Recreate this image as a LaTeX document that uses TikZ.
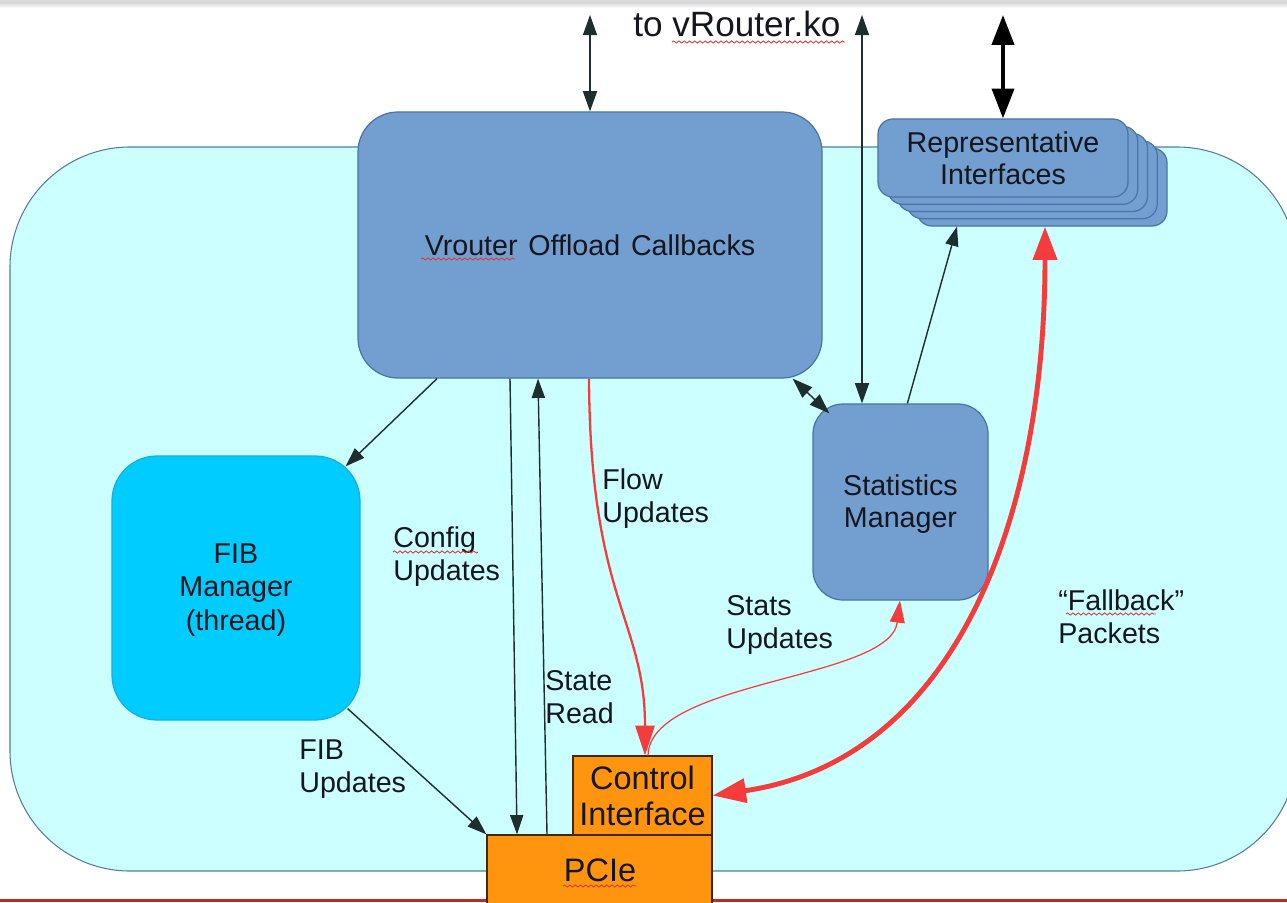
\documentclass[tikz,border=0pt]{standalone}
\usepackage{fontspec}
\setmainfont{Liberation Sans}
\usetikzlibrary{arrows.meta,fit,decorations.pathmorphing,calc}

\definecolor{bgcyan}{RGB}{204,255,255}
\definecolor{bgedge}{RGB}{85,125,155}
\definecolor{boxblue}{RGB}{114,159,207}
\definecolor{boxedge}{RGB}{75,115,165}
\definecolor{fibcyan}{RGB}{0,204,255}
\definecolor{fibedge}{RGB}{20,175,225}
\definecolor{orangebox}{RGB}{255,149,14}
\definecolor{orangeedge}{RGB}{60,40,20}
\definecolor{inkline}{RGB}{30,45,45}
\definecolor{flowred}{RGB}{245,60,60}
\definecolor{txt}{RGB}{22,22,30}
\definecolor{barred}{RGB}{185,45,35}
\definecolor{squigred}{RGB}{215,60,60}

\begin{document}
\begin{tikzpicture}[x=0.02cm,y=-0.02cm,
  font=\fontsize{16.3}{18.4}\selectfont, text=txt,
  block/.style={draw=boxedge, fill=boxblue, line width=0.7pt, inner sep=0pt},
  fibbox/.style={draw=fibedge, fill=fibcyan, line width=0.7pt, inner sep=0pt},
  orbox/.style={draw=orangeedge, fill=orangebox, line width=0.7pt, inner sep=0pt},
  boxtext/.style={align=center, inner sep=0pt},
  hwtext/.style={align=center, inner sep=0pt, font=\fontsize{18.5}{20.5}\selectfont},
  lbl/.style={anchor=base west, align=left, inner sep=0pt},
  arr/.style={draw=inkline, line width=0.8pt, -{Triangle[length=11pt,width=7.5pt]}},
  dbl/.style={draw=inkline, line width=0.8pt,
              {Triangle[length=11.5pt,width=8pt]}-{Triangle[length=11.5pt,width=8pt]}},
  heavydbl/.style={draw=black, line width=2.3pt,
              {Triangle[length=17pt,width=12.5pt]}-{Triangle[length=17pt,width=12.5pt]}},
  redflow/.style={draw=flowred, line width=1.3pt, -{Triangle[length=17pt,width=11pt]}},
  redthin/.style={draw=flowred, line width=0.7pt, -{Triangle[length=12.5pt,width=8.5pt]}},
  redheavy/.style={draw=flowred, line width=2.8pt,
              {Triangle[length=19pt,width=13.5pt]}-{Triangle[length=19pt,width=13.5pt]}},
  squig/.style={draw=squigred, line width=0.5pt,
              decorate, decoration={snake, amplitude=0.6pt, segment length=3pt}}
]
\useasboundingbox (0,0) rectangle (1287,902);
\clip (0,0) rectangle (1287,902);

% page edges
\fill[gray!28] (0,0) rectangle (1287,3);
\shade[top color=gray!28, bottom color=white] (0,3) rectangle (1287,8);
\fill[barred] (0,899) rectangle (1287,902);

% outer area
\draw[draw=bgedge, fill=bgcyan, line width=0.6pt, rounded corners=2.4cm]
  (10,147) rectangle (1297,871);

% main blocks
\node[block, rounded corners=0.8cm, fit={(358,112) (822,378)}] (vr) {};
\node[boxtext] (vrtext) at (vr.center) {Vrouter\hspace{0.1em} Offload\hspace{0.1em} Callbacks};
\node[block, rounded corners=0.6cm, fit={(813,404) (988,600)}] (sm) {};
\node[boxtext] (smtext) at ($(sm.center)+(0,2)$) {Statistics\\Manager};
\node[fibbox, rounded corners=0.9cm, fit={(112,456) (360,720)}] (fib) {};
\node[boxtext, font=\fontsize{16.3}{19.2}\selectfont] (fibtext) at ($(fib.center)+(0,2)$)
  {FIB\\Manager\\(thread)};

% stack of representative interfaces, back to front
\foreach \i in {4,3,2,1}
  \node[block, rounded corners=0.3cm,
        fit={({878+9.75*\i},{119+7.25*\i}) ({1128+9.75*\i},{197+7.25*\i})}] (rep\i) {};
\node[block, rounded corners=0.3cm, fit={(878,119) (1128,197)}] (repfront) {};
\node[boxtext] (reptext) at (repfront.center) {Representative\\Interfaces};

% hardware side
\node[orbox, fit={(487,835) (712,905)}] (pcie) {};
\node[hwtext] (pcietext) at (600,870) {PCIe};
\node[orbox, fit={(573,756) (712,835)}] (ci) {};
\node[hwtext] (citext) at (ci.center) {Control\\Interface};

% free ends at the top
\coordinate (t1) at (590,15);
\coordinate (t2) at (862,15);
\coordinate (t3) at (1003,15);
\node[anchor=base west, inner sep=0pt, font=\fontsize{20}{22}\selectfont] (kmod)
  at (633,37) {to vRouter.ko};

% black connectors
\draw[dbl] (t1) -- (vr.north);
\draw[dbl] (t2) -- (t2 |- sm.north);
\draw[heavydbl] (t3) -- (repfront.north);
\draw[dbl] ($(vr.south east)+(-30,0)$) -- ($(sm.north west)+(17,10)$);
\draw[arr] ($(sm.north west)+(95,0)$) -- (957,0 |- rep4.south);
\draw[arr] (437,0 |- vr.south) -- ($(fib.north east)+(-15,11)$);
\draw[arr] (510,0 |- vr.south) -- (517,0 |- pcie.north);
\draw[arr] (547,0 |- pcie.north) -- (538,0 |- vr.south);
\draw[arr] ($(fib.south east)+(-13,-12)$) -- (pcie.north west);

% red connectors
\draw[redflow] (589,0 |- vr.south) .. controls (590,600) and (645,620) .. (645,0 |- ci.north);
\draw[redthin] (648,0 |- ci.north) .. controls (650,680) and (890,680) .. (900,0 |- sm.south);
\draw[redheavy] (ci.east) .. controls (955,760) and (1045,520) .. (1045,0 |- rep4.south);

% connector labels (anchored at the baseline of the last line)
\node[lbl] (lcfg)   at (393,580) {Config\\Updates};
\node[lbl] (lstate) at (545,723) {State\\Read};
\node[lbl] (lflow)  at (602,522) {Flow\\Updates};
\node[lbl] (lstats) at (726,648) {Stats\\Updates};
\node[lbl] (lfib)   at (299,792) {FIB\\Updates};
\node[lbl] (lfall)  at (1058,643) {“Fallback”\\Packets};

% spelling marks under words
\draw[squig] (672,42) -- (845,42);
\draw[squig] (421,259) -- (515,259);
\draw[squig] (393,552) -- (478,552);
\draw[squig] (563,886) -- (636,886);
\draw[squig] (1066,614) -- (1156,614);
\end{tikzpicture}
\end{document}
